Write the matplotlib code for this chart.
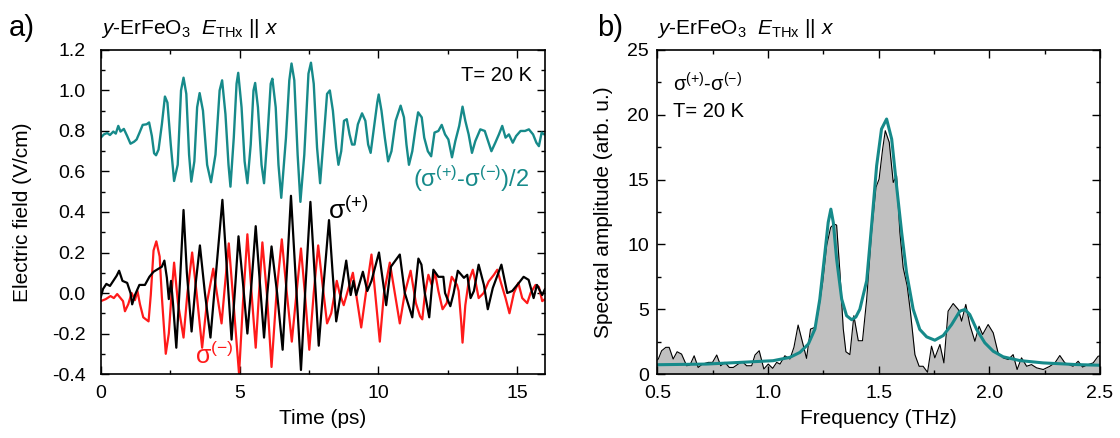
import numpy as np
import matplotlib
matplotlib.use('Agg')
import matplotlib.pyplot as plt
from matplotlib.ticker import MultipleLocator

plt.rcParams['font.family'] = ['Liberation Sans', 'DejaVu Sans']
plt.rcParams['mathtext.fontset'] = 'custom'
plt.rcParams['mathtext.rm'] = 'Liberation Sans'
plt.rcParams['mathtext.it'] = 'Liberation Sans:italic'
plt.rcParams['mathtext.default'] = 'regular'

# waveform data (time in ps, field in V/cm) ------------------------------
t_diff = [0.0, 0.11, 0.23, 0.33, 0.45, 0.54, 0.63, 0.71, 0.83, 0.95, 1.07, 1.2, 1.29, 1.39, 1.51,
          1.65, 1.74, 1.84, 1.92, 1.99, 2.08, 2.2, 2.31, 2.4, 2.52, 2.64, 2.77, 2.89, 2.98, 3.08,
          3.18, 3.26, 3.37, 3.47, 3.56, 3.68, 3.83, 3.97, 4.13, 4.28, 4.37, 4.49, 4.6, 4.67, 4.79,
          4.89, 4.95, 5.07, 5.18, 5.28, 5.4, 5.5, 5.56, 5.66, 5.79, 5.88, 6.0, 6.12, 6.18, 6.3,
          6.4, 6.5, 6.67, 6.79, 6.87, 6.97, 7.09, 7.19, 7.33, 7.48, 7.57, 7.67, 7.79, 7.9, 8.03,
          8.15, 8.25, 8.36, 8.48, 8.56, 8.66, 8.76, 8.86, 8.96, 9.05, 9.14, 9.26, 9.41, 9.53, 9.63,
          9.72, 9.84, 9.96, 10.01, 10.11, 10.23, 10.35, 10.47, 10.62, 10.8, 10.92, 11.01, 11.1, 11.22,
          11.34, 11.43, 11.56, 11.65, 11.78, 11.9, 12.02, 12.16, 12.28, 12.4, 12.52, 12.65, 12.77,
          12.91, 13.03, 13.13, 13.25, 13.37, 13.49, 13.67, 13.83, 13.95, 14.07, 14.21, 14.34, 14.46,
          14.58, 14.7, 14.84, 14.96, 15.12, 15.28, 15.42, 15.57, 15.69, 15.78, 15.88, 15.97]
e_diff = [0.767, 0.783, 0.79, 0.78, 0.797, 0.787, 0.825, 0.797, 0.81, 0.775, 0.737, 0.747, 0.758,
          0.79, 0.83, 0.833, 0.842, 0.775, 0.69, 0.68, 0.708, 0.833, 0.97, 0.94, 0.733, 0.553,
          0.633, 1.0, 1.063, 0.983, 0.683, 0.55, 0.65, 0.917, 0.987, 0.9, 0.633, 0.547, 0.683, 1.0,
          1.05, 0.883, 0.633, 0.525, 0.767, 1.033, 1.087, 0.917, 0.65, 0.542, 0.733, 1.0, 1.037,
          0.917, 0.633, 0.542, 0.767, 1.033, 1.058, 0.917, 0.633, 0.47, 0.767, 1.05, 1.133, 1.05,
          0.683, 0.45, 0.683, 1.083, 1.137, 1.033, 0.717, 0.542, 0.767, 0.983, 1.0, 0.9, 0.717,
          0.633, 0.7, 0.85, 0.858, 0.783, 0.733, 0.733, 0.833, 0.887, 0.85, 0.733, 0.692, 0.817,
          0.942, 0.98, 0.9, 0.767, 0.65, 0.7, 0.85, 0.925, 0.867, 0.733, 0.633, 0.7, 0.817, 0.892,
          0.867, 0.767, 0.7, 0.675, 0.792, 0.8, 0.83, 0.783, 0.758, 0.67, 0.75, 0.825, 0.92, 0.85,
          0.783, 0.692, 0.75, 0.808, 0.8, 0.75, 0.7, 0.742, 0.783, 0.825, 0.767, 0.783, 0.742,
          0.775, 0.8, 0.8, 0.808, 0.783, 0.742, 0.725, 0.792, 0.783]

t_plus = [0.0, 0.08, 0.2, 0.33, 0.45, 0.57, 0.66, 0.78, 0.95, 1.07, 1.13, 1.23, 1.39, 1.59, 1.75,
          1.9, 2.08, 2.2, 2.29, 2.38, 2.45, 2.53, 2.6, 2.72, 2.85, 2.98, 3.1, 3.27, 3.42, 3.57,
          3.75, 3.95, 4.15, 4.38, 4.55, 4.71, 4.85, 4.96, 5.12, 5.28, 5.43, 5.58, 5.73, 5.88, 6.0,
          6.15, 6.35, 6.55, 6.7, 6.85, 7.03, 7.21, 7.38, 7.55, 7.7, 7.85, 8.03, 8.22, 8.35, 8.48,
          8.65, 8.84, 9.0, 9.1, 9.2, 9.44, 9.6, 9.75, 10.02, 10.28, 10.45, 10.77, 10.95, 11.22,
          11.44, 11.55, 11.67, 11.83, 11.98, 12.16, 12.34, 12.4, 12.59, 12.71, 12.86, 13.08, 13.2,
          13.32, 13.44, 13.61, 13.8, 13.94, 14.12, 14.43, 14.64, 14.82, 15.06, 15.23, 15.41, 15.59,
          15.71, 15.9, 16.0]
e_plus = [-0.02, 0.02, 0.045, 0.035, 0.06, 0.085, 0.11, 0.06, 0.05, 0.0, -0.056, -0.01, 0.04,
          0.04, 0.08, 0.105, 0.12, 0.13, 0.16, 0.075, -0.03, 0.06, -0.05, -0.27, 0.05, 0.41, 0.1,
          -0.19, 0.05, 0.235, 0.0, -0.22, 0.1, 0.46, 0.1, -0.23, 0.05, 0.28, 0.05, -0.2, 0.05,
          0.33, 0.05, -0.22, 0.0, 0.23, 0.0, -0.28, 0.1, 0.48, 0.05, -0.38, 0.05, 0.45, 0.1, -0.26,
          0.05, 0.36, 0.1, -0.14, 0.0, 0.16, -0.01, 0.06, -0.01, 0.105, 0.01, 0.06, 0.2, -0.06,
          0.13, 0.19, 0.0, -0.12, 0.17, 0.14, 0.0, -0.12, 0.115, 0.08, 0.08, 0.0, -0.065, 0.0,
          0.11, 0.075, 0.09, -0.025, 0.01, 0.14, 0.04, -0.08, 0.025, 0.14, 0.0, 0.01, 0.05, 0.08,
          0.065, -0.025, 0.04, -0.01, 0.02]

t_minus = [0.0, 0.18, 0.35, 0.47, 0.59, 0.71, 0.8, 0.87, 0.99, 1.11, 1.23, 1.32, 1.41, 1.53, 1.72,
           1.8, 1.9, 2.0, 2.12, 2.2, 2.34, 2.45, 2.55, 2.64, 2.78, 2.98, 3.12, 3.29, 3.45, 3.65,
           3.82, 4.05, 4.18, 4.35, 4.48, 4.61, 4.78, 4.98, 5.12, 5.28, 5.43, 5.58, 5.7, 5.82, 5.98,
           6.15, 6.33, 6.52, 6.7, 6.88, 7.05, 7.21, 7.35, 7.51, 7.67, 7.83, 7.98, 8.15, 8.3, 8.5,
           8.6, 8.75, 9.08, 9.38, 9.55, 9.75, 10.05, 10.2, 10.41, 10.77, 10.95, 11.16, 11.35, 11.5,
           11.58, 11.68, 11.8, 11.92, 12.04, 12.16, 12.31, 12.46, 12.64, 12.83, 12.89, 12.98, 13.03,
           13.13, 13.25, 13.4, 13.52, 13.61, 13.79, 13.97, 14.16, 14.28, 14.4, 14.58, 14.72, 14.88,
           15.04, 15.18, 15.36, 15.48, 15.66, 15.78, 15.9, 16.0]
e_minus = [-0.04, -0.03, -0.015, -0.025, -0.005, -0.025, -0.04, -0.09, -0.055, 0.0, -0.035, 0.01,
           -0.055, -0.12, -0.14, -0.01, 0.21, 0.255, 0.18, -0.02, -0.3, -0.2, 0.0, 0.15, -0.05,
           -0.22, 0.0, 0.2, 0.0, -0.27, -0.05, 0.12, 0.0, -0.15, 0.05, 0.245, -0.05, -0.4, -0.05,
           0.29, 0.0, -0.27, 0.0, 0.25, 0.0, -0.365, 0.0, 0.265, 0.0, -0.24, 0.0, 0.22, 0.0, -0.28,
           0.0, 0.235, 0.05, -0.15, -0.1, 0.06, 0.0, -0.06, 0.1, -0.17, 0.0, 0.19, -0.24, 0.0, 0.15,
           -0.15, 0.0, 0.11, -0.05, -0.115, -0.13, 0.0, 0.09, 0.04, 0.1, 0.01, -0.08, -0.05, 0.08,
           0.04, 0.01, -0.14, -0.245, -0.06, 0.057, 0.115, 0.04, -0.025, 0.0, 0.057, 0.09, 0.115,
           0.057, -0.025, -0.1, 0.0, 0.05, -0.025, -0.05, 0.0, 0.04, 0.03, -0.04, -0.03]

# spectrum data (frequency in THz, amplitude arb. u.) ---------------------
f_spec = [0.5, 0.504, 0.519, 0.538, 0.553, 0.571, 0.589, 0.609, 0.632, 0.647, 0.666, 0.684, 0.704,
          0.73, 0.749, 0.768, 0.786, 0.805, 0.825, 0.843, 0.865, 0.885, 0.903, 0.926, 0.941, 0.96,
          0.981, 1.001, 1.021, 1.039, 1.054, 1.076, 1.099, 1.117, 1.136, 1.156, 1.174, 1.192,
          1.212, 1.227, 1.247, 1.265, 1.283, 1.298, 1.31, 1.325, 1.34, 1.352, 1.37, 1.388, 1.408,
          1.427, 1.446, 1.468, 1.488, 1.502, 1.518, 1.53, 1.548, 1.566, 1.581, 1.596, 1.611, 1.629,
          1.644, 1.664, 1.683, 1.701, 1.721, 1.739, 1.754, 1.777, 1.795, 1.814, 1.837, 1.86, 1.875,
          1.894, 1.912, 1.935, 1.954, 1.97, 1.995, 2.018, 2.04, 2.063, 2.086, 2.108, 2.126, 2.146,
          2.169, 2.191, 2.214, 2.244, 2.274, 2.297, 2.319, 2.342, 2.379, 2.402, 2.422, 2.447, 2.47,
          2.492, 2.5]
a_spec = [1.1, 1.16, 1.8, 2.06, 2.06, 1.16, 1.72, 1.54, 0.64, 0.69, 1.41, 0.51, 0.77, 0.9, 0.9,
          1.47, 0.64, 0.9, 0.51, 0.51, 0.77, 0.95, 0.64, 0.64, 1.47, 1.8, 0.39, 0.77, 0.44, 0.9,
          0.77, 1.41, 1.16, 2.06, 3.78, 2.44, 1.21, 3.47, 3.6, 4.76, 7.07, 9.9, 11.31, 11.57, 11.49,
          7.84, 3.5, 1.72, 1.5, 4.5, 2.57, 2.57, 5.78, 10.9, 14.4, 15.04, 17.35, 18.77, 17.87,
          14.78, 15.3, 10.93, 8.2, 6.81, 4.76, 1.5, 0.6, 0.6, 0.14, 2.15, 1.25, 2.28, 0.86, 4.85,
          5.44, 4.98, 4.08, 5.37, 3.82, 2.53, 3.69, 3.05, 3.82, 3.18, 1.64, 1.25, 1.12, 1.5, 0.35,
          1.25, 0.6, 0.73, 0.48, 0.35, 0.6, 0.86, 1.43, 0.86, 0.6, 0.99, 0.54, 0.73, 0.86, 1.37, 1.4]

f_fit = [0.502, 0.722, 0.873, 1.023, 1.099, 1.144, 1.182, 1.212, 1.234, 1.254, 1.272, 1.284, 1.295,
         1.31, 1.333, 1.355, 1.378, 1.397, 1.415, 1.446, 1.468, 1.491, 1.513, 1.536, 1.559, 1.581,
         1.604, 1.626, 1.656, 1.686, 1.717, 1.754, 1.792, 1.83, 1.867, 1.89, 1.912, 1.943, 1.98,
         2.018, 2.063, 2.138, 2.244, 2.395, 2.5]
a_fit = [0.72, 0.77, 0.9, 1.03, 1.29, 1.67, 2.31, 3.47, 5.78, 8.87, 11.7, 12.72, 11.7, 8.87, 5.78,
         4.5, 4.19, 4.4, 5.0, 7.2, 11.44, 16.07, 18.9, 19.67, 18.12, 14.52, 10.93, 7.84, 5.0, 3.44,
         2.87, 2.61, 2.97, 3.82, 4.85, 4.98, 4.59, 3.44, 2.41, 1.76, 1.33, 1.04, 0.86, 0.73, 0.68]

teal = '#168a8a'
red = '#ff1a1a'
title_txt = r'$\mathit{y}$-ErFeO$_3$  $\mathit{E}_{\mathrm{THx}}$ || $\mathit{x}$'
line_kw = dict(solid_joinstyle='round', solid_capstyle='round')

fig = plt.figure(figsize=(11.2, 4.38), dpi=100)
ax1 = fig.add_axes([0.090, 0.146, 0.3966, 0.740])
ax2 = fig.add_axes([0.587, 0.146, 0.395, 0.740])

# panel a ------------------------------------------------------------------
ax1.plot(t_diff, e_diff, color=teal, lw=1.7, **line_kw)
ax1.plot(t_minus, e_minus, color=red, lw=1.6, **line_kw)
ax1.plot(t_plus, e_plus, color='black', lw=1.6, **line_kw)
ax1.set_xlim(0, 16)
ax1.set_ylim(-0.4, 1.2)
ax1.xaxis.set_major_locator(MultipleLocator(5))
ax1.xaxis.set_minor_locator(MultipleLocator(2.5))
ax1.yaxis.set_major_locator(MultipleLocator(0.2))
ax1.yaxis.set_minor_locator(MultipleLocator(0.1))
ax1.yaxis.set_major_formatter(matplotlib.ticker.FormatStrFormatter('%.1f'))
ax1.set_xlabel('Time (ps)', fontsize=15, labelpad=5)
ax1.set_ylabel('Electric field (V/cm)', fontsize=15, labelpad=14)
ax1.tick_params(axis='y', pad=11)
ax1.text(0.97, 0.95, 'T= 20 K', transform=ax1.transAxes, ha='right', va='top', fontsize=14.5)
ax1.text(15.45, 0.565, r'($\sigma^{(+)}$-$\sigma^{(-)}$)/2', color=teal, ha='right', va='center', fontsize=17)
ax1.text(8.2, 0.41, r'$\sigma^{(+)}$', color='black', ha='left', va='center', fontsize=19)
ax1.text(3.4, -0.31, r'$\sigma^{(-)}$', color=red, ha='left', va='center', fontsize=18)
ax1.text(0.0, 1.03, title_txt, transform=ax1.transAxes, ha='left', va='bottom', fontsize=15)
fig.text(0.008, 0.918, 'a)', fontsize=21)

# panel b ------------------------------------------------------------------
ax2.fill_between(f_spec, a_spec, 0, color='#c0c0c0', lw=0)
ax2.plot(f_spec, a_spec, color='black', lw=0.8)
ax2.plot(f_fit, a_fit, color=teal, lw=2.2, **line_kw)
ax2.set_xlim(0.5, 2.5)
ax2.set_ylim(0, 25)
ax2.xaxis.set_major_locator(MultipleLocator(0.5))
ax2.xaxis.set_minor_locator(MultipleLocator(0.25))
ax2.yaxis.set_major_locator(MultipleLocator(5))
ax2.yaxis.set_minor_locator(MultipleLocator(2.5))
ax2.set_xlabel('Frequency (THz)', fontsize=15, labelpad=5)
ax2.set_ylabel('Spectral amplitude (arb. u.)', fontsize=15, labelpad=10)
ax2.text(0.035, 0.93, r'$\sigma^{(+)}$-$\sigma^{(-)}$', transform=ax2.transAxes, ha='left', va='top', fontsize=14.5)
ax2.text(0.035, 0.84, 'T= 20 K', transform=ax2.transAxes, ha='left', va='top', fontsize=14.5)
ax2.text(0.0, 1.03, title_txt, transform=ax2.transAxes, ha='left', va='bottom', fontsize=15)
fig.text(0.533, 0.918, 'b)', fontsize=21)

for ax in (ax1, ax2):
    ax.tick_params(which='both', direction='in', top=True, right=True, labelsize=14)
    ax.tick_params(axis='x', pad=8)
    ax.tick_params(which='major', length=6, width=1)
    ax.tick_params(which='minor', length=3, width=1)
    for s in ax.spines.values():
        s.set_linewidth(1.2)
ax2.tick_params(axis='y', pad=6)

fig.savefig('out.png', dpi=100)
